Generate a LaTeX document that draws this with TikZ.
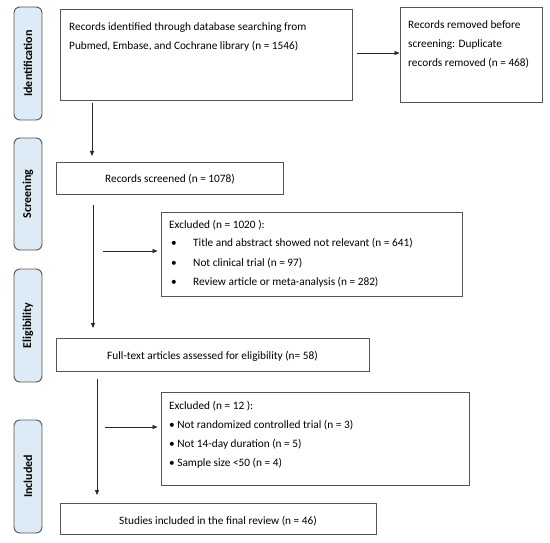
\documentclass[tikz,border=0pt]{standalone}
\usepackage{fontspec}
\setmainfont{Carlito}
\usetikzlibrary{arrows.meta}
\definecolor{sidefill}{HTML}{DDEBF7}
\definecolor{edge}{HTML}{555555}
\tikzset{
  box/.style={draw=edge, line width=0.9pt, rectangle, inner sep=0pt},
  side/.style={draw=edge, line width=0.9pt, fill=sidefill, rounded corners=6pt, minimum width=28pt, inner sep=0pt},
  sidetxt/.style={rotate=90, font=\fontsize{12}{14}\selectfont\bfseries, inner sep=0pt},
  txt/.style={font=\fontsize{11.3}{19}\selectfont, inner sep=0pt, anchor=base west},
  ctxt/.style={font=\fontsize{11.3}{19}\selectfont, inner sep=0pt, anchor=base},
  arr/.style={draw=black!85, line width=0.8pt, -{Triangle[length=5pt,width=4pt]}}
}
\begin{document}
\begin{tikzpicture}[x=1pt,y=-1pt]
\useasboundingbox (0,0) rectangle (550,543);
% side labels
\node[side, minimum height=113pt] (sid) at (28,63.5) {};
\node[sidetxt] (sidt) at (sid.center) {Identification};
\node[side, minimum height=112pt] (sscr) at (28,194) {};
\node[sidetxt] (sscrt) at (sscr.center) {Screening};
\node[side, minimum height=113pt] (sel) at (28,325.5) {};
\node[sidetxt] (selt) at (sel.center) {Eligibility};
\node[side, minimum height=113pt] (sin) at (28,476.5) {};
\node[sidetxt] (sint) at (sin.center) {Included};
% boxes
\node[box, minimum width=292pt, minimum height=91pt] (b1) at (206,54.5) {};
\node[txt] (b1a) at (69,30.5) {Records identified through database searching from};
\node[txt] (b1b) at (69,49.5) {Pubmed, Embase, and Cochrane library (n = 1546)};
\node[box, minimum width=142pt, minimum height=95pt] (b2) at (471,54.5) {};
\node[txt] (b2a) at (408,28.5) {Records removed before};
\node[txt] (b2b) at (408,47.5) {screening: Duplicate};
\node[txt] (b2c) at (408,66.5) {records removed (n = 468)};
\node[box, minimum width=227pt, minimum height=32pt] (b3) at (169.5,178) {};
\node[ctxt] (b3a) at (170,182.5) {Records screened (n = 1078)};
\node[box, minimum width=301pt, minimum height=84pt] (ex1) at (311.5,254) {};
\node[txt] (e1a) at (169,228.5) {Excluded (n = 1020 ):};
\node[txt] (e1b) at (171,247) {•};
\node[txt] (e1c) at (193,247) {Title and abstract showed not relevant (n = 641)};
\node[txt] (e1d) at (171,266) {•};
\node[txt] (e1e) at (193,266) {Not clinical trial (n = 97)};
\node[txt] (e1f) at (171,285) {•};
\node[txt] (e1g) at (193,285) {Review article or meta-analysis (n = 282)};
\node[box, minimum width=313pt, minimum height=33pt] (b4) at (212.5,354.5) {};
\node[ctxt] (b4a) at (212.5,359.5) {Full-text articles assessed for eligibility (n= 58)};
\node[box, minimum width=308pt, minimum height=93pt] (ex2) at (315,438.5) {};
\node[txt] (e2a) at (169,409.5) {Excluded (n = 12 ):};
\node[txt] (e2b) at (169,428.5) {• Not randomized controlled trial (n = 3)};
\node[txt] (e2c) at (169,447.5) {• Not 14-day duration (n = 5)};
\node[txt] (e2d) at (169,466.5) {• Sample size <50 (n = 4)};
\node[box, minimum width=316pt, minimum height=31pt] (b5) at (218,518.5) {};
\node[ctxt] (b5a) at (218,524.5) {Studies included in the final review (n = 46)};
% connectors
\coordinate (a1) at (357,53);
\draw[arr] (a1) -- (a1 -| b2.west);
\coordinate (d1) at (92,103);
\coordinate (d1e) at (92,156);
\draw[arr] (d1) -- (d1e);
\coordinate (d2) at (93,205);
\coordinate (d2e) at (93,328);
\draw[arr] (d2) -- (d2e);
\coordinate (h1) at (103,251);
\draw[arr, shorten >=3pt] (h1) -- (h1 -| ex1.west);
\coordinate (d3) at (97,379);
\coordinate (d3e) at (97,495);
\draw[arr] (d3) -- (d3e);
\coordinate (h2) at (105,427);
\draw[arr, shorten >=3pt] (h2) -- (h2 -| ex2.west);
\end{tikzpicture}
\end{document}
